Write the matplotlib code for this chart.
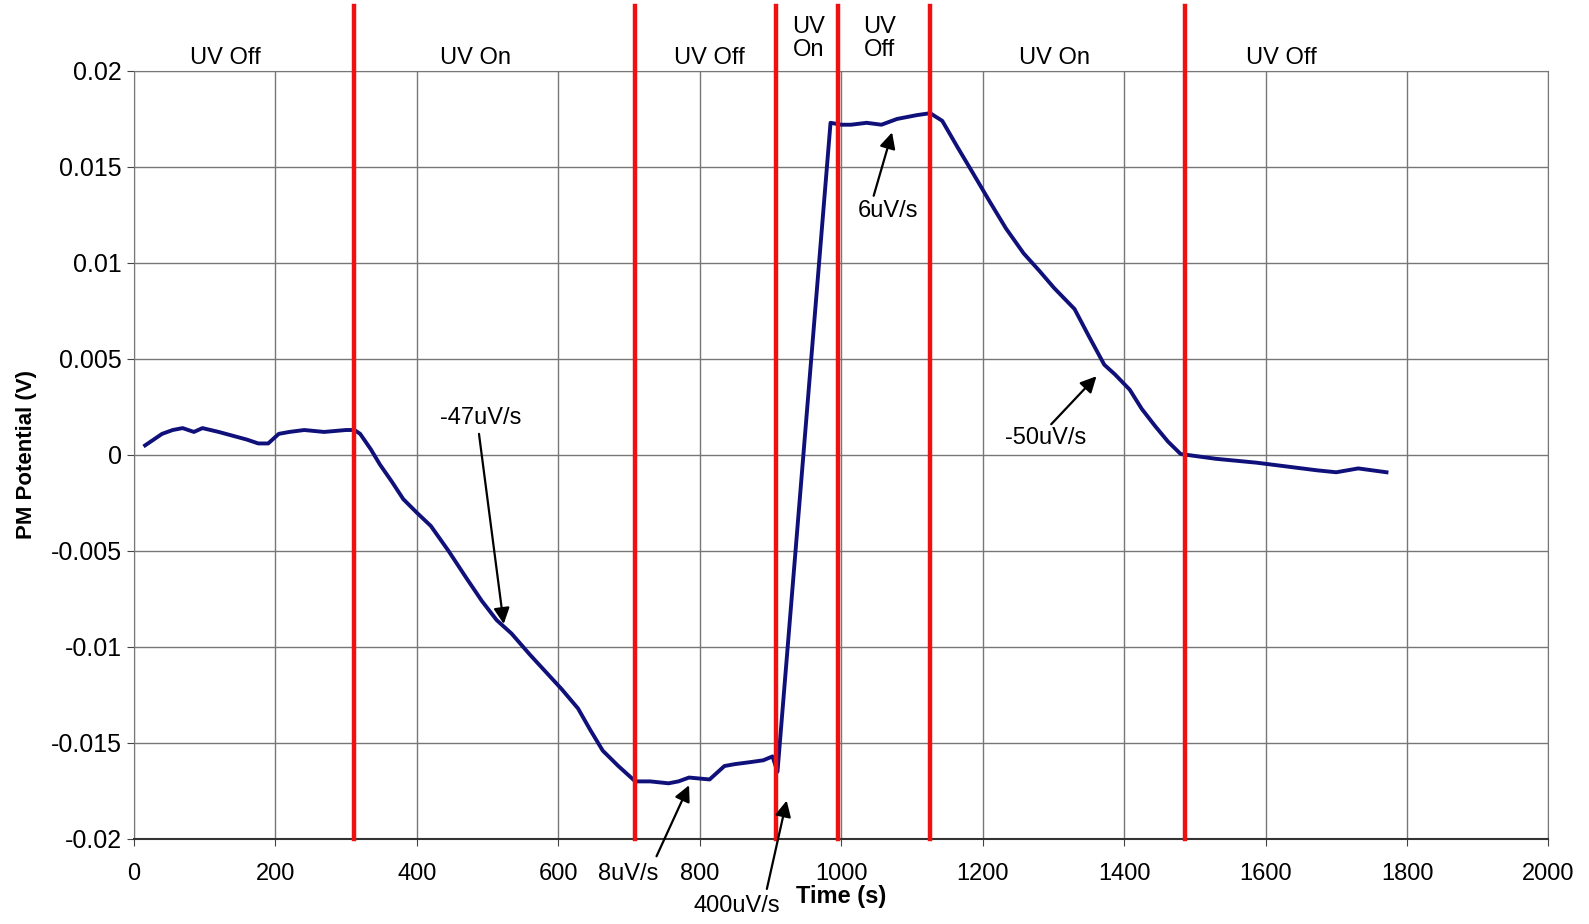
import numpy as np
import matplotlib
matplotlib.use('Agg')
import matplotlib.pyplot as plt

plt.rcParams['font.family'] = ['Liberation Sans', 'DejaVu Sans']
plt.rcParams['axes.unicode_minus'] = False

# кривая потенциала
t = [16, 28, 40, 55, 69, 85, 97, 120, 140, 160, 176, 190, 205, 220, 241, 269,
     300, 312, 320, 335, 348, 365, 381, 400, 420, 445, 470, 492, 513, 534, 560,
     585, 605, 628, 645, 663, 685, 709, 730, 756, 770, 785, 814, 835, 850,
     871, 890, 903, 910, 985, 1000, 1014, 1036, 1057, 1079, 1107, 1126, 1143,
     1165, 1186, 1210, 1233, 1258, 1280, 1301, 1330, 1350, 1372, 1387, 1408,
     1425, 1444, 1462, 1480, 1530, 1587, 1630, 1673, 1700, 1731, 1771]
v = [0.0005, 0.0008, 0.0011, 0.0013, 0.0014, 0.0012, 0.0014, 0.0012, 0.0010,
     0.0008, 0.0006, 0.0006, 0.0011, 0.0012, 0.0013, 0.0012,
     0.0013, 0.0013, 0.0011, 0.0003, -0.0005, -0.0014, -0.0023, -0.0030,
     -0.0037, -0.0050, -0.0064, -0.0076, -0.0086, -0.0093, -0.0104,
     -0.0114, -0.0122, -0.0132, -0.0143, -0.0154, -0.0162, -0.0170, -0.0170,
     -0.0171, -0.0170, -0.0168, -0.0169, -0.0162, -0.0161,
     -0.0160, -0.0159, -0.0157, -0.0165, 0.0173, 0.0172, 0.0172, 0.0173,
     0.0172, 0.0175, 0.0177, 0.0178, 0.0174,
     0.0160, 0.0147, 0.0132, 0.0118, 0.0105, 0.0096, 0.0087, 0.0076, 0.0062,
     0.0047, 0.0042, 0.0034, 0.0024, 0.0015, 0.0007, 0.00005, -0.0002,
     -0.0004, -0.0006, -0.0008, -0.0009, -0.0007, -0.0009]

# моменты переключения УФ
switch_t = [312, 709, 908, 996, 1126, 1486]

# подписи участков
phase_labels = ['UV Off', 'UV On', 'UV Off', 'UV\nOn', 'UV\nOff', 'UV On', 'UV Off']
phase_t = [129, 483, 814, 954, 1054, 1301, 1622]

# аннотации скоростей: текст, позиция текста, хвост и голова стрелки
rate_text = ['-47uV/s', '8uV/s', '400uV/s', '6uV/s', '-50uV/s']
rate_pos = [(491, 0.0019), (699, -0.0218), (852, -0.0235), (1066, 0.0127), (1289, 0.0009)]
rate_tail = [(488, 0.0011), (739, -0.0209), (895, -0.0226), (1046, 0.0135), (1297, 0.0016)]
rate_head = [(523, -0.0088), (785, -0.0172), (923, -0.0180), (1072, 0.0168), (1361, 0.0041)]

xticks = np.arange(0, 2001, 200)
yticks = [-0.02, -0.015, -0.01, -0.005, 0, 0.005, 0.01, 0.015, 0.02]
ytick_labels = ['-0.02', '-0.015', '-0.01', '-0.005', '0', '0.005', '0.01', '0.015', '0.02']

fig = plt.figure(figsize=(15.89, 9.24), dpi=100)
ax = fig.add_axes([0.0842, 0.092, 0.8903, 0.8312])

ax.plot(t, v, color='#10107a', lw=2.8, zorder=3)

for s in switch_t:
    ax.plot([s, s], [-0.02, 0.0234], color='#ee1111', lw=3.2, zorder=4, clip_on=False)

# однострочные подписи чуть ниже, двухстрочные как есть
for lab, x in zip(phase_labels, phase_t):
    y0 = 0.0205 if '\n' in lab else 0.0201
    ax.text(x, y0, lab, ha='center', va='bottom', fontsize=17, linespacing=1.1)

for txt, p, tl, hd in zip(rate_text, rate_pos, rate_tail, rate_head):
    ax.annotate('', xy=hd, xytext=tl,
                arrowprops=dict(arrowstyle='-|>', color='black', lw=1.6,
                                mutation_scale=24, shrinkA=0, shrinkB=0),
                annotation_clip=False, zorder=5)
    ax.text(p[0], p[1], txt, ha='center', va='center', fontsize=17, clip_on=False)

ax.set_xlim(0, 2000)
ax.set_ylim(-0.02, 0.02)
ax.set_xticks(xticks)
ax.set_yticks(yticks)
ax.set_yticklabels(ytick_labels)
ax.tick_params(labelsize=17, length=5, color='#444444')
ax.tick_params(axis='x', pad=12)
ax.tick_params(axis='y', labelsize=18)
ax.grid(True, color='#777777', lw=1)
ax.set_axisbelow(True)
for side in ['top', 'right', 'left']:
    ax.spines[side].set_color('#777777')
ax.spines['bottom'].set_color('#333333')
ax.spines['bottom'].set_linewidth(1.5)

ax.set_xlabel('Time (s)', fontsize=17, fontweight='bold', labelpad=0)
ax.set_ylabel('PM Potential (V)', fontsize=16, fontweight='bold', labelpad=10)

fig.savefig('out.png', dpi=100)
